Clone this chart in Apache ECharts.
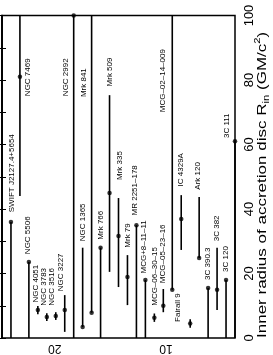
<!DOCTYPE html>
<html><head><meta charset="utf-8">
<script src="https://cdn.jsdelivr.net/npm/echarts@6/dist/echarts.min.js"></script>
<style>html,body{margin:0;padding:0;background:#fff}#c{width:273px;height:355px}</style>
</head><body><div id="c"></div>
<script>
// ---- data ----
const objects = ['SWIFT J2127.4+5654','NGC 7469','NGC 5506','NGC 4051','NGC 3783','NGC 3516','NGC 3227','NGC 2992','NGC 1365','Mrk 841','Mrk 766','Mrk 509','Mrk 335','Mrk 79','MR 2251–178','MCG+8–11–11','MCG–06–30–15','MCG–05–23–16','MCG–02–14–009','IC 4329A','Fairall 9','Ark 120','3C 390.3','3C 382','3C 120','3C 111'];
const column  = [1,2,3,4,5,6,7,8,9,10,11,12,13,14,15,16,17,18,19,20,21,22,23,24,25,26];
const rinLow  = [0,44,0,7.4,5.3,5.6,1.9,0,3.4,7.8,0,20.5,15.8,10.2,0,0,5,8,15,27.3,3.2,24.8,0,8.7,0,0];
const rinHigh = [36,100,23.6,9.9,7.7,8,13.3,100,28,100,28,75.3,43.4,25.7,35,18,7.6,15.2,100,44.3,5.8,43.7,15.5,28,18,61];
const rinBest = [36,81,23.6,8.7,6.5,6.8,8.7,100,3.4,7.8,28,45,31.6,18.9,35,18,6.3,10,15,36.9,4.5,24.8,15.5,15,18,61];
const labelColumn = [1.1,2.9,2.9,3.8,4.7,5.6,6.6,7.1,9,9.1,11,12,13.1,14,14.8,15.8,17,17.9,17.9,19.9,19.6,21.9,23,24,25,25.1];
const labelRin    = [39,75,26,11,10,10,14.5,75,30,74.7,30.5,78,49,28,38,20,10,17,70,47,5,46,18,30,20.5,62];
const yTickValues = [0,20,40,60,80,100];
const sideLabels = ['20','10'];
const sideLabelColumn = [5.9,18.3];
const sideLabelRin = [-3.1,-3.1];
const axisTitle = '{n|Inner radius of accretion disc R}{s|in}{n| (GM/c}{p|2}{n|)}';

const chart = echarts.init(document.getElementById('c'), null, {renderer:'canvas'});
const FONT = '"Liberation Sans", Arial, sans-serif';

const barData = objects.map((n,i)=>[column[i], rinLow[i], rinHigh[i]]);
const dotData = objects.map((n,i)=>[column[i], rinBest[i]]);
const labelData = objects.map((n,i)=>[labelColumn[i], labelRin[i], n]);
const sideData = sideLabels.map((t,i)=>[sideLabelColumn[i], sideLabelRin[i], t]);

chart.setOption({
  animation:false,
  backgroundColor:'#fff',
  grid:{left:2,right:38,top:15.5,bottom:17,show:true,borderColor:'#000',borderWidth:1.5},
  xAxis:[{type:'value',min:0,max:26,axisLine:{show:false},axisTick:{show:false},axisLabel:{show:false},splitLine:{show:false}}],
  yAxis:[
    {type:'value',min:0,max:100,interval:20,position:'right',
     axisLine:{show:true,lineStyle:{color:'#000',width:1.5}},
     axisTick:{show:true,inside:true,length:4,lineStyle:{color:'#000',width:1}},
     minorTick:{show:true,splitNumber:2,length:4,lineStyle:{color:'#000',width:1}},
     splitLine:{show:false},
     axisLabel:{show:true,rotate:90,margin:8,color:'#000',fontSize:13,fontFamily:FONT,
       formatter:v=>yTickValues.indexOf(v)>=0?String(v):''},
     name:''},
    {type:'value',min:0,max:100,interval:10,position:'left',
     axisLine:{show:true,lineStyle:{color:'#000',width:1.5}},
     axisTick:{show:true,inside:true,length:4,lineStyle:{color:'#000',width:1}},
     axisLabel:{show:false},splitLine:{show:false}}
  ],
  graphic:[{type:'text',x:262,y:338,rotation:Math.PI/2,scaleX:1.26,
    style:{text:axisTitle,align:'left',verticalAlign:'middle',
      rich:{n:{fontSize:13.5,fontFamily:FONT,fill:'#000',lineHeight:18,verticalAlign:'middle'},
            s:{fontSize:9,fontFamily:FONT,fill:'#000',lineHeight:18,verticalAlign:'bottom',padding:[8,0,0,0]},
            p:{fontSize:9,fontFamily:FONT,fill:'#000',lineHeight:18,verticalAlign:'top',padding:[0,0,8,0]}}}}],
  series:[
    {type:'custom',coordinateSystem:'cartesian2d',data:barData,clip:false,
     renderItem:(params,api)=>{
       const a=api.coord([api.value(0),api.value(1)]);
       const b=api.coord([api.value(0),api.value(2)]);
       return {type:'line',shape:{x1:a[0],y1:a[1],x2:b[0],y2:b[1]},style:{stroke:'#000',lineWidth:1.6}};
     }},
    {type:'scatter',data:dotData,symbol:'circle',symbolSize:4.5,itemStyle:{color:'#000'},clip:false},
    {type:'custom',coordinateSystem:'cartesian2d',data:labelData,clip:false,
     renderItem:(params,api)=>{
       const p=api.coord([api.value(0),api.value(1)]);
       return {type:'text',x:p[0],y:p[1],rotation:Math.PI/2,
         style:{text:labelData[params.dataIndex][2],fontSize:8,fontFamily:FONT,fill:'#000',align:'left',verticalAlign:'middle'}};
     }},
    {type:'custom',coordinateSystem:'cartesian2d',data:sideData,clip:false,
     renderItem:(params,api)=>{
       const p=api.coord([api.value(0),api.value(1)]);
       return {type:'text',x:p[0],y:p[1],rotation:Math.PI,
         style:{text:sideData[params.dataIndex][2],fontSize:12,fontFamily:FONT,fill:'#000',align:'center',verticalAlign:'middle'}};
     }}
  ]
});
</script></body></html>
